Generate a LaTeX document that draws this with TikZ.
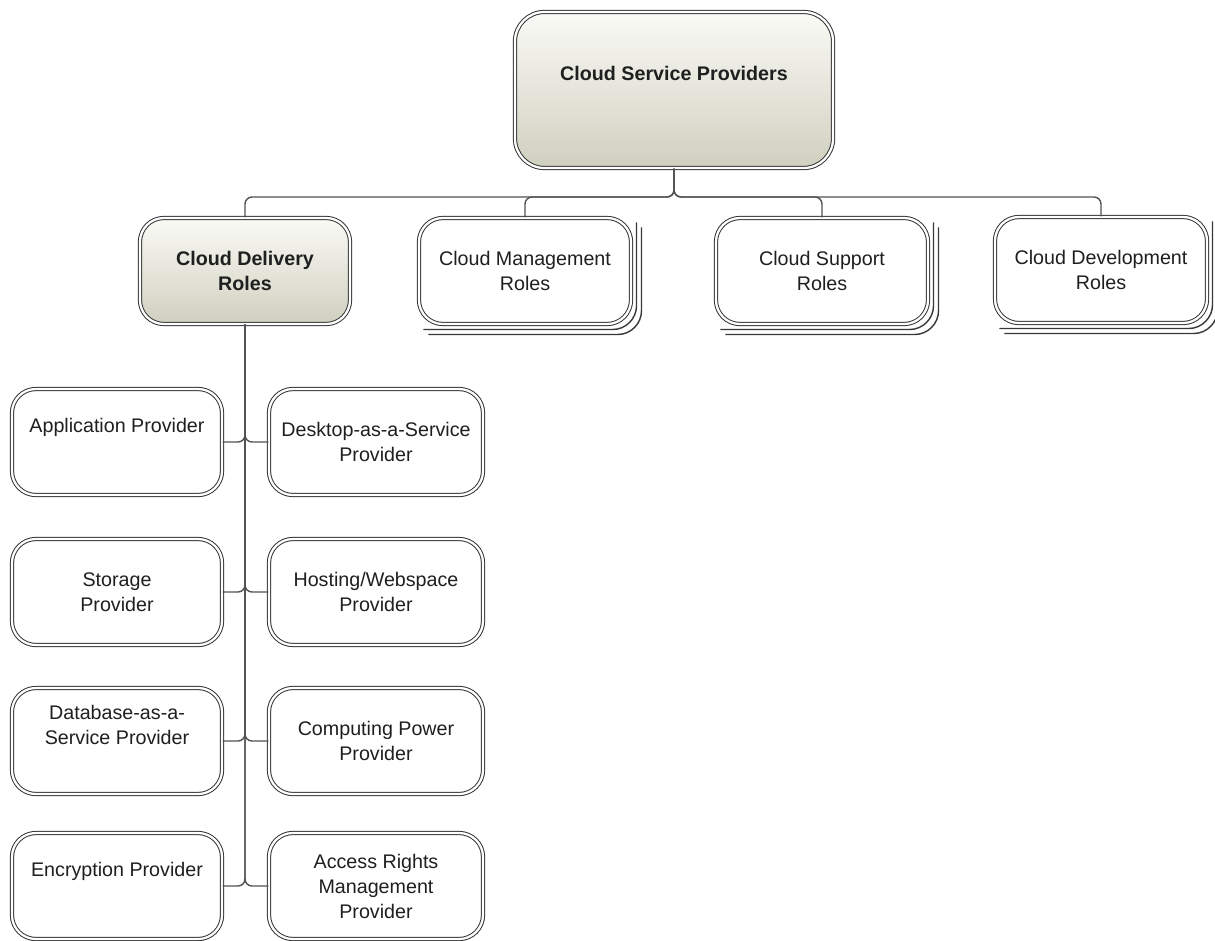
\documentclass[tikz,border=0pt]{standalone}
\usepackage{fontspec}
\setmainfont{Liberation Sans}
\definecolor{headtop}{RGB}{250,250,246}
\definecolor{headbot}{RGB}{208,208,192}
\begin{document}
\begin{tikzpicture}[x=0.025cm, y=-0.025cm,
  font=\fontsize{14}{17.8}\selectfont,
  role/.style={draw=black!80, double=white, double distance=1.6pt, line width=0.7pt,
    rounded corners=17pt, minimum width=5.25cm, minimum height=2.65cm,
    align=center, text=black!88, fill=white, inner sep=0pt},
  wide/.style={minimum width=5.35cm},
  head/.style={role, top color=headtop, bottom color=headbot,
    font=\fontsize{14}{17.8}\selectfont\bfseries},
  stackline/.style={draw=black!78, line width=1pt, rounded corners=17pt},
  conn/.style={draw=black!68, line width=1pt, rounded corners=5pt}
]
\useasboundingbox (0,0) rectangle (1215,940);

% junction point of the top-level connectors
\coordinate (bus) at (674,197);

% top level
\node[head, minimum width=7.95cm, minimum height=3.9cm, rounded corners=21pt] (csp) at (674,90)
  {Cloud Service Providers\\\strut};

% second level
\node[head] (cdr) at (245,271) {Cloud Delivery\\Roles};
\node[role, minimum width=5.3cm] (cmr) at (525,271) {Cloud Management\\Roles};
\node[role, minimum width=5.3cm] (csr) at (822,271) {Cloud Support\\Roles};
\node[role, minimum width=5.3cm] (cdv) at (1101,270) {Cloud Development\\Roles};

% stacked outlines behind the grouped roles
\foreach \n in {cmr,csr,cdv}{
  \foreach \d in {5,10}{
    \draw[stackline] ([shift={(\d,\d)}]\n.south west) -| ([shift={(\d,\d)}]\n.north east);
  }
}

% delivery roles
\node[role] (app) at (117,442) {Application Provider\\\strut};
\node[role, wide] (daas) at (376,442) {Desktop-as-a-Service\\Provider};
\node[role] (sto) at (117,592) {Storage\\Provider};
\node[role, wide] (host) at (376,592) {Hosting/Webspace\\Provider};
\node[role] (dbaas) at (117,741) {Database-as-a-\\Service Provider\\\strut};
\node[role, wide] (comp) at (376,741) {Computing Power\\Provider};
\node[role] (enc) at (117,886) {Encryption Provider\\\strut};
\node[role, wide] (arm) at (376,886) {Access Rights\\Management\\Provider};

% connectors
\foreach \c in {cdr,cmr,csr,cdv}
  \draw[conn] (csp.south) -- (bus) -| (\c.north);
\foreach \c in {app,sto,dbaas,enc}
  \draw[conn] (cdr.south) |- (\c.east);
\foreach \c in {daas,host,comp,arm}
  \draw[conn] (cdr.south) |- (\c.west);
\end{tikzpicture}
\end{document}
